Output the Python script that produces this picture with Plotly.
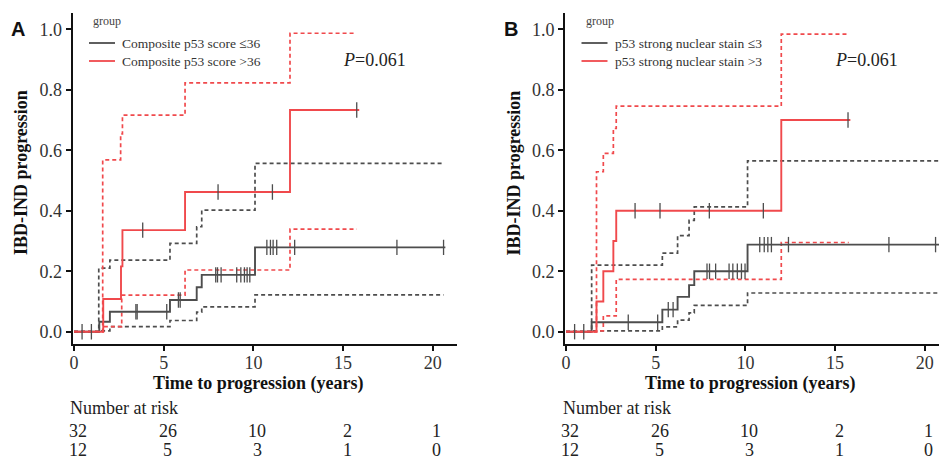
import plotly.graph_objects as go

W, H = 939, 459

# ---------------- Panel A data ----------------
A_low_t = [0, 1.41, 2.00, 5.35, 6.84, 7.12, 10.09, 20.7]
A_low_y = [0, 0.033, 0.066, 0.105, 0.147, 0.188, 0.279, 0.279]
A_low_up_t = [0, 1.38, 2.00, 5.35, 6.84, 7.12, 10.09, 20.6]
A_low_up_y = [0, 0.21, 0.237, 0.292, 0.347, 0.402, 0.557, 0.557]
A_low_lo_t = [0, 1.38, 2.00, 5.35, 6.84, 7.12, 10.09, 20.6]
A_low_lo_y = [0, 0.003, 0.017, 0.037, 0.065, 0.082, 0.122, 0.122]
A_low_cens = [0.45, 0.97, 3.45, 3.52, 5.17, 5.82, 5.92, 7.9, 8.0, 8.2, 9.07, 9.3, 9.5, 9.65, 9.8,
              10.75, 10.95, 11.1, 11.3, 12.3, 18.0, 20.6]
A_low_cens_y = [0, 0, 0.066, 0.066, 0.066, 0.105, 0.105, 0.188, 0.188, 0.188, 0.188, 0.188, 0.188, 0.188, 0.188,
                0.279, 0.279, 0.279, 0.279, 0.279, 0.279, 0.279]

A_high_t = [0, 1.63, 2.62, 2.70, 6.19, 12.04, 15.9]
A_high_y = [0, 0.108, 0.216, 0.336, 0.462, 0.733, 0.733]
A_high_up_t = [0, 1.60, 2.60, 2.70, 6.19, 12.04, 15.65]
A_high_up_y = [0, 0.568, 0.654, 0.716, 0.823, 0.987, 0.987]
A_high_lo_t = [0, 1.63, 2.66, 6.19, 12.04, 15.76]
A_high_lo_y = [0, 0.017, 0.121, 0.204, 0.339, 0.339]
A_high_cens = [3.83, 8.03, 11.06, 15.76]
A_high_cens_y = [0.336, 0.462, 0.462, 0.733]

# ---------------- Panel B data ----------------
B_low_t = [0, 1.43, 5.37, 6.22, 6.86, 7.15, 10.12, 20.9]
B_low_y = [0, 0.031, 0.073, 0.115, 0.154, 0.200, 0.288, 0.288]
B_low_up_t = [0, 1.43, 5.37, 6.22, 6.86, 7.15, 10.12, 20.9]
B_low_up_y = [0, 0.22, 0.26, 0.318, 0.368, 0.413, 0.565, 0.565]
B_low_lo_t = [0, 1.43, 5.37, 6.22, 6.86, 7.15, 10.12, 20.9]
B_low_lo_y = [0, 0.003, 0.016, 0.038, 0.062, 0.087, 0.128, 0.128]
B_low_cens = [0.48, 0.99, 3.47, 5.11, 5.7, 5.97, 7.86, 8.0, 8.34, 9.09, 9.3, 9.55, 9.78, 9.98,
              10.8, 11.05, 11.25, 11.45, 12.4, 18.0, 20.6]
B_low_cens_y = [0, 0, 0.031, 0.031, 0.073, 0.073, 0.2, 0.2, 0.2, 0.2, 0.2, 0.2, 0.2, 0.2,
                0.288, 0.288, 0.288, 0.288, 0.288, 0.288, 0.288]

B_high_t = [0, 1.70, 2.08, 2.64, 2.80, 12.0, 15.85]
B_high_y = [0, 0.100, 0.200, 0.300, 0.400, 0.700, 0.700]
B_high_up_t = [0, 1.70, 2.08, 2.64, 2.80, 12.0, 15.66]
B_high_up_y = [0, 0.529, 0.590, 0.672, 0.746, 0.984, 0.984]
B_high_lo_t = [0, 1.70, 2.08, 2.80, 12.0, 15.76]
B_high_lo_y = [0, 0.003, 0.052, 0.173, 0.295, 0.295]
B_high_cens = [3.85, 5.24, 7.99, 11.0, 15.72]
B_high_cens_y = [0.4, 0.4, 0.4, 0.4, 0.7]

# ---------------- Text data ----------------
legend_A = ["Composite p53 score ≤36", "Composite p53 score >36"]
legend_B = ["p53 strong nuclear stain ≤3", "p53 strong nuclear stain >3"]
risk_times = [0, 5, 10, 15, 20]
risk_low = [32, 26, 10, 2, 1]
risk_high = [12, 5, 3, 1, 0]
p_text = "<i>P</i>=0.061"
x_ticks = [0, 5, 10, 15, 20]
y_ticks = [0.0, 0.2, 0.4, 0.6, 0.8, 1.0]

GRAY = "#4d4d4d"
RED = "#f0494c"
SERIF = "Liberation Serif, Times New Roman, serif"
SANS = "Liberation Sans, Arial, sans-serif"
DASH = "4px,3px"

fig = go.Figure()


def add_panel(xa, ya, low, low_up, low_lo, low_c, high, high_up, high_lo, high_c):
    for (t, y), col, dash, w in [
        (low_up, GRAY, DASH, 1.7), (low_lo, GRAY, DASH, 1.7),
        (high_up, RED, DASH, 1.7), (high_lo, RED, DASH, 1.7),
        (low, GRAY, "solid", 1.9), (high, RED, "solid", 1.9),
    ]:
        fig.add_trace(go.Scatter(x=t, y=y, mode="lines", line=dict(color=col, width=w, dash=dash, shape="hv"),
                                 xaxis=xa, yaxis=ya, showlegend=False, hoverinfo="skip"))
    for (t, y) in [low_c, high_c]:
        fig.add_trace(go.Scatter(x=t, y=y, mode="markers",
                                 marker=dict(symbol="line-ns-open", size=11, color=GRAY,
                                             line=dict(color=GRAY, width=1.3)),
                                 xaxis=xa, yaxis=ya, showlegend=False, hoverinfo="skip"))


add_panel("x", "y", (A_low_t, A_low_y), (A_low_up_t, A_low_up_y), (A_low_lo_t, A_low_lo_y),
          (A_low_cens, A_low_cens_y), (A_high_t, A_high_y), (A_high_up_t, A_high_up_y),
          (A_high_lo_t, A_high_lo_y), (A_high_cens, A_high_cens_y))
add_panel("x2", "y2", (B_low_t, B_low_y), (B_low_up_t, B_low_up_y), (B_low_lo_t, B_low_lo_y),
          (B_low_cens, B_low_cens_y), (B_high_t, B_high_y), (B_high_up_t, B_high_up_y),
          (B_high_lo_t, B_high_lo_y), (B_high_cens, B_high_cens_y))

px_per_year = 17.94
y_dom = [1 - 344 / H, 1 - 13 / H]
y_rng = [-0.0407, 1.054]

axis_common = dict(showgrid=False, zeroline=False, showline=True, linecolor="#111", linewidth=2,
                   ticks="outside", ticklen=5, tickwidth=1.5, tickcolor="#111", automargin=False,
                   tickfont=dict(family=SERIF, size=18, color="#333"))

A_left, A_right = 72.5, 457
B_left, B_right = 565, 939
A_x0 = -(74 - A_left) / px_per_year
B_x0 = -(566 - B_left) / px_per_year
fig.update_layout(
    width=W, height=H, margin=dict(l=0, r=0, t=0, b=0, autoexpand=False),
    paper_bgcolor="white", plot_bgcolor="white",
    xaxis=dict(domain=[A_left / W, A_right / W], range=[A_x0, A_x0 + (A_right - A_left) / px_per_year],
               tickvals=x_ticks, anchor="y", ticklabelstandoff=-4, **axis_common),
    yaxis=dict(domain=y_dom, range=y_rng, tickvals=y_ticks, tickformat=".1f", anchor="x", **axis_common),
    xaxis2=dict(domain=[B_left / W, B_right / W], range=[B_x0, B_x0 + (B_right - B_left) / px_per_year],
                tickvals=x_ticks, anchor="y2", ticklabelstandoff=-4, **axis_common),
    yaxis2=dict(domain=y_dom, range=y_rng, tickvals=y_ticks, tickformat=".1f", anchor="x2", **axis_common),
)


def ann(x, y, text, size, family=SERIF, xanchor="center", color="#222", angle=0):
    fig.add_annotation(x=x / W, y=1 - y / H, xref="paper", yref="paper", text=text, showarrow=False,
                       xanchor=xanchor, yanchor="middle", textangle=angle,
                       font=dict(family=family, size=size, color=color))


for off, letter, leg, xt_center in [(0, "A", legend_A, 258), (492.5, "B", legend_B, 750)]:
    ann(18 + off, 29, "<b>%s</b>" % letter, 20, family=SANS, color="#111")
    ann(21 + off, 173, "<b>IBD-IND progression</b>", 18, color="#111", angle=-90)
    ann(xt_center, 383, "<b>Time to progression (years)</b>", 18, color="#111")
    ann(91 + off, 21, "group", 12, xanchor="left", color="#444")
    for i, (txt, col) in enumerate(zip(leg, [GRAY, RED])):
        yy = 43 + 18 * i
        fig.add_shape(type="line", xref="paper", yref="paper", x0=(89 + off) / W, x1=(115 + off) / W,
                      y0=1 - yy / H, y1=1 - yy / H, line=dict(color=col, width=1.8))
        ann(120 + off, yy, txt, 13.5, xanchor="left", color="#333")
    ann(374 + off, 60, p_text, 18, color="#222")
    ann(68 + off, 408, "Number at risk", 18, xanchor="left", color="#222")

for x_left_px in [74, 566]:
    for t, a, b in zip(risk_times, risk_low, risk_high):
        xp = x_left_px + t * px_per_year + 4
        ann(xp, 431, str(a), 18)
        ann(xp, 449.5, str(b), 18)

fig.write_html("out.html", config={"displayModeBar": False},
               post_script="document.body.style.margin='0px';document.body.style.overflow='hidden';")
